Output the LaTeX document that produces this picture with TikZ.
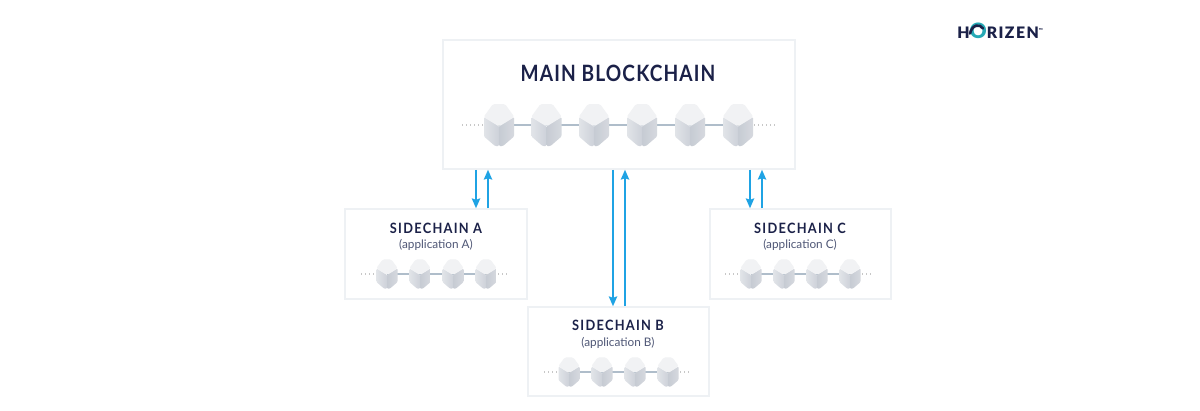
\documentclass[tikz,border=0pt]{standalone}
\usepackage{fontspec}
\setmainfont{Lato}
\newfontfamily\maintitlefont[LetterSpace=5,FakeStretch=0.85]{Lato Bold}
\newfontfamily\titlefont[LetterSpace=9,FakeStretch=0.9]{Lato Bold}
\newfontfamily\logofont[LetterSpace=9]{Lato Black}
\usetikzlibrary{arrows.meta,calc}
\definecolor{navy}{HTML}{1B2148}
\definecolor{subgrey}{HTML}{4E5675}
\definecolor{boxline}{HTML}{EEF1F4}
\definecolor{linkc}{HTML}{AFBDCA}
\definecolor{arrowc}{HTML}{1FA3E4}
\definecolor{topface}{HTML}{F1F2F4}
\definecolor{lefta}{HTML}{E1E4E8}
\definecolor{leftb}{HTML}{CDD1D9}
\definecolor{righta}{HTML}{C6CBD3}
\definecolor{rightb}{HTML}{D6D9DF}
\definecolor{teallogo}{HTML}{26A9B5}
\tikzset{
  x=0.02cm,y=-0.02cm,
  panel/.style={draw=boxline,line width=0.9pt,fill=white,minimum width=#1,inner sep=0},
  blockspot/.style={inner sep=0,minimum width=#1,minimum height=#1,rectangle},
  maintitle/.style={text=navy,font=\maintitlefont\fontsize{12.8}{14}\selectfont,inner sep=0},
  sidetitle/.style={text=navy,font=\titlefont\fontsize{8.1}{10}\selectfont,inner sep=0},
  sidesub/.style={text=subgrey,font=\fontsize{6.7}{8}\selectfont,inner sep=0},
  linkline/.style={draw=linkc,line width=0.85pt},
  tailline/.style={draw=black!22,line width=0.6pt,dash pattern=on 0.6pt off 1.7pt},
  flow/.style={draw=arrowc,line width=0.85pt,-{Stealth[length=5.6pt,width=4.8pt,inset=0.8pt]}},
  logotext/.style={text=navy,font=\logofont\fontsize{9}{11}\selectfont,inner sep=0},
}
% name, x, y, scale: cube-like block
\newcommand{\cubeblock}[4]{%
  \node[blockspot=#4*0.6cm] (#1) at (#2,#3) {};
  \begin{scope}[shift={(#2,#3)},scale=#4]
    \shade[left color=lefta,right color=leftb,rounded corners=0.6pt]
      (-15,-8) -- (0,1) -- (0,21) -- (-4,21) -- (-15,11.5) -- cycle;
    \shade[left color=righta,right color=rightb,rounded corners=0.6pt]
      (15,-8) -- (0,1) -- (0,21) -- (4,21) -- (15,11.5) -- cycle;
    \fill[topface,rounded corners=0.9pt]
      (-15.4,-8) -- (-6,-21) -- (6,-21) -- (15.4,-8) -- (0,1.5) -- cycle;
  \end{scope}
}
\begin{document}
\begin{tikzpicture}
\useasboundingbox (0,0) rectangle (1200,410);
\fill[white] (0,0) rectangle (1200,410);

% panels
\node[panel=7.04cm,minimum height=2.58cm] (main) at (619,104.5) {};
\node[panel=3.64cm,minimum height=1.80cm] (sideA) at (436,254) {};
\node[panel=3.62cm,minimum height=1.78cm] (sideB) at (618.5,351.5) {};
\node[panel=3.62cm,minimum height=1.80cm] (sideC) at (800.5,254) {};

% titles
\node[maintitle] (tmain) at (618,73) {MAIN BLOCKCHAIN};
\node[sidetitle] (tA) at (436,228) {SIDECHAIN A};
\node[sidesub] (sA) at (436,245) {(application A)};
\node[sidetitle] (tB) at (618,325) {SIDECHAIN B};
\node[sidesub] (sB) at (618,343) {(application B)};
\node[sidetitle] (tC) at (800,228) {SIDECHAIN C};
\node[sidesub] (sC) at (800,245) {(application C)};

% free ends of dotted tails
\coordinate (mL) at (462,125); \coordinate (mR) at (776,125);
\coordinate (aL) at (361,274); \coordinate (aR) at (509,274);
\coordinate (bL) at (544,372); \coordinate (bR) at (692,372);
\coordinate (cL) at (725,274); \coordinate (cR) at (873,274);

% block spots for the links (blocks drawn afterwards)
\foreach \n/\x in {m1/499,m2/546.5,m3/594,m4/642,m5/690,m6/738}{\coordinate (\n) at (\x,125);}
\foreach \n/\x in {a1/387,a2/420,a3/453,a4/486}{\coordinate (\n) at (\x,274);}
\foreach \n/\x in {b1/569,b2/602,b3/635,b4/668}{\coordinate (\n) at (\x,372);}
\foreach \n/\x in {c1/751,c2/784,c3/817,c4/850}{\coordinate (\n) at (\x,274);}

\draw[linkline] (m1) -- (m2) -- (m3) -- (m4) -- (m5) -- (m6);
\draw[linkline] (a1) -- (a2) -- (a3) -- (a4);
\draw[linkline] (b1) -- (b2) -- (b3) -- (b4);
\draw[linkline] (c1) -- (c2) -- (c3) -- (c4);
\draw[tailline] (mL) -- (m1); \draw[tailline] (m6) -- (mR);
\draw[tailline] (aL) -- (a1); \draw[tailline] (a4) -- (aR);
\draw[tailline] (bL) -- (b1); \draw[tailline] (b4) -- (bR);
\draw[tailline] (cL) -- (c1); \draw[tailline] (c4) -- (cR);

\foreach \n/\x in {m1/499,m2/546.5,m3/594,m4/642,m5/690,m6/738}{\cubeblock{blk\n}{\x}{125}{1}}
\foreach \n/\x in {a1/387,a2/420,a3/453,a4/486}{\cubeblock{blk\n}{\x}{274}{0.7}}
\foreach \n/\x in {b1/569,b2/602,b3/635,b4/668}{\cubeblock{blk\n}{\x}{372}{0.7}}
\foreach \n/\x in {c1/751,c2/784,c3/817,c4/850}{\cubeblock{blk\n}{\x}{274}{0.7}}

% arrows between panels
\coordinate (xAd) at (476,0); \coordinate (xAu) at (488,0);
\coordinate (xBd) at (613,0); \coordinate (xBu) at (625,0);
\coordinate (xCd) at (750,0); \coordinate (xCu) at (762,0);
\draw[flow] (main.south -| xAd) -- (sideA.north -| xAd);
\draw[flow] (sideA.north -| xAu) -- (main.south -| xAu);
\draw[flow] (main.south -| xBd) -- (sideB.north -| xBd);
\draw[flow] (sideB.north -| xBu) -- (main.south -| xBu);
\draw[flow] (main.south -| xCd) -- (sideC.north -| xCd);
\draw[flow] (sideC.north -| xCu) -- (main.south -| xCu);

% logo
\node[logotext,anchor=west] (logo) at (957,31) {H{\color{teallogo}\fontsize{12}{12}\selectfont O}RIZEN\raisebox{3.5pt}{\fontsize{3}{4}\selectfont ™}};
\coordinate (swirl) at (977,31.5);
\draw[navy,line width=1.5pt,line cap=round] ($(swirl)+(-7,2)$) .. controls ($(swirl)+(-5,-7)$) and ($(swirl)+(3,-8)$) .. ($(swirl)+(6,-3)$);
\end{tikzpicture}
\end{document}
